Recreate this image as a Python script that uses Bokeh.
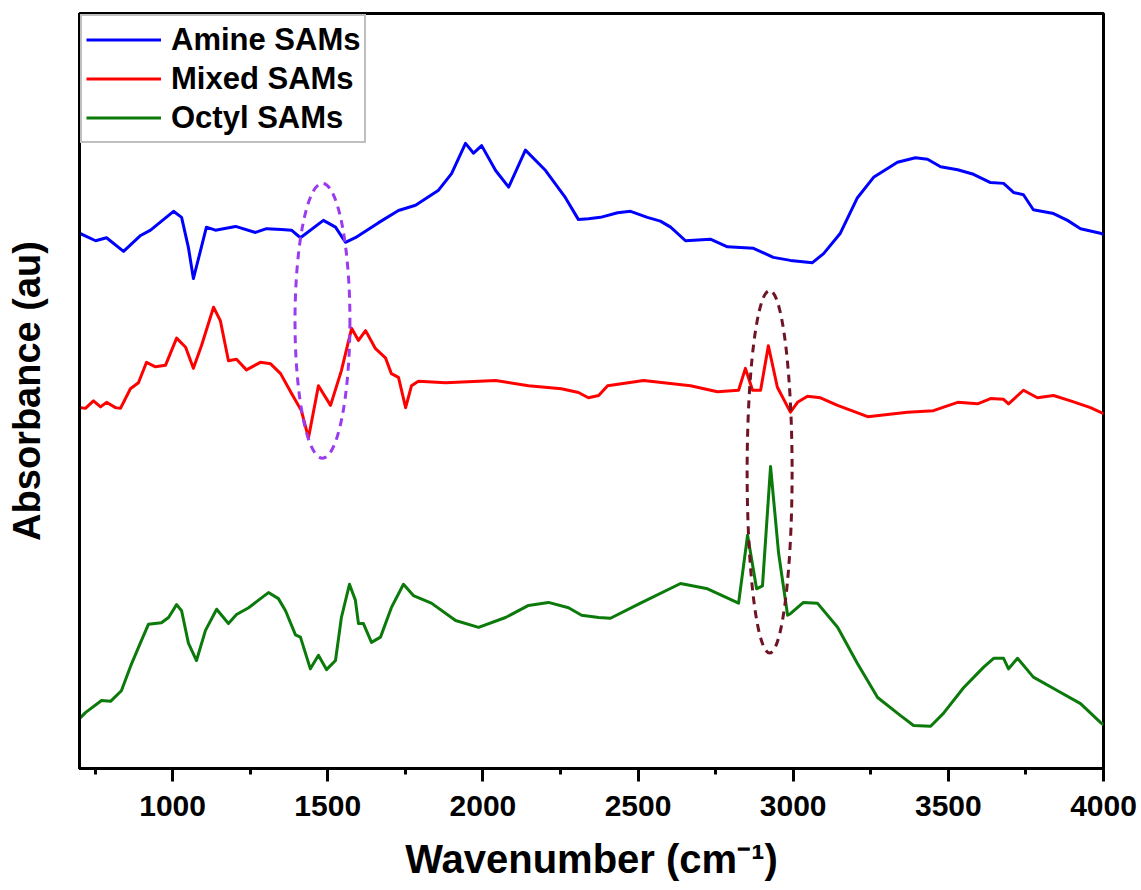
from bokeh.plotting import figure
from bokeh.models import Range1d, FixedTicker, Legend, LegendItem
from bokeh.embed import file_html
from bokeh.resources import INLINE

# ---- data ----
amine_wn = [700, 752, 787, 842, 897, 929, 1003, 1029, 1051, 1067, 1090, 1109, 1138, 1203, 1267, 1303,
            1351, 1383, 1412, 1486, 1525, 1557, 1589, 1664, 1728, 1783, 1857, 1899, 1944, 1970, 1996,
            2041, 2083, 2137, 2202, 2266, 2308, 2340, 2379, 2434, 2476, 2530, 2572, 2605, 2653, 2733,
            2788, 2872, 2936, 2991, 3062, 3098, 3152, 3207, 3259, 3336, 3394, 3433, 3475, 3530, 3581,
            3636, 3678, 3710, 3742, 3774, 3839, 3884, 3926, 3990, 4000]
amine_abs = [0.709, 0.699, 0.703, 0.685, 0.706, 0.713, 0.738, 0.730, 0.690, 0.649, 0.686, 0.717, 0.713,
             0.718, 0.710, 0.715, 0.714, 0.713, 0.703, 0.726, 0.717, 0.697, 0.703, 0.723, 0.739, 0.746,
             0.766, 0.788, 0.828, 0.815, 0.825, 0.792, 0.770, 0.819, 0.792, 0.756, 0.727, 0.728, 0.730,
             0.736, 0.738, 0.730, 0.725, 0.717, 0.699, 0.701, 0.691, 0.689, 0.677, 0.673, 0.670, 0.682,
             0.709, 0.756, 0.783, 0.803, 0.809, 0.807, 0.797, 0.793, 0.787, 0.776, 0.775, 0.763, 0.760,
             0.740, 0.735, 0.726, 0.715, 0.709, 0.707]

mixed_wn = [700, 719, 745, 768, 787, 816, 832, 864, 890, 916, 945, 977, 1013, 1042, 1067, 1093, 1132,
            1154, 1180, 1206, 1238, 1283, 1316, 1348, 1383, 1415, 1438, 1470, 1509, 1544, 1577, 1599,
            1622, 1654, 1686, 1705, 1728, 1751, 1770, 1792, 1880, 2041, 2147, 2253, 2308, 2340, 2373,
            2402, 2518, 2669, 2756, 2824, 2846, 2869, 2895, 2920, 2949, 2991, 3014, 3046, 3088, 3143,
            3240, 3368, 3452, 3530, 3594, 3636, 3678, 3694, 3742, 3787, 3839, 3894, 3958, 4000]
mixed_abs = [0.478, 0.477, 0.487, 0.479, 0.485, 0.478, 0.477, 0.503, 0.511, 0.538, 0.532, 0.534, 0.570,
             0.558, 0.530, 0.560, 0.611, 0.593, 0.540, 0.542, 0.528, 0.538, 0.536, 0.523, 0.497, 0.474,
             0.438, 0.507, 0.481, 0.527, 0.583, 0.567, 0.580, 0.556, 0.544, 0.523, 0.518, 0.478, 0.507,
             0.513, 0.511, 0.514, 0.507, 0.503, 0.498, 0.491, 0.494, 0.507, 0.514, 0.507, 0.499, 0.501,
             0.530, 0.501, 0.501, 0.560, 0.505, 0.472, 0.485, 0.493, 0.491, 0.481, 0.466, 0.472, 0.474,
             0.485, 0.483, 0.490, 0.489, 0.483, 0.501, 0.491, 0.494, 0.487, 0.478, 0.470]

octyl_wn = [700, 719, 771, 800, 835, 868, 897, 922, 964, 987, 1013, 1029, 1051, 1077, 1106, 1142, 1180,
            1206, 1245, 1277, 1309, 1341, 1364, 1396, 1412, 1444, 1470, 1496, 1525, 1544, 1570, 1589,
            1599, 1615, 1641, 1670, 1705, 1744, 1776, 1834, 1912, 1986, 2073, 2147, 2211, 2276, 2318,
            2373, 2411, 2508, 2637, 2724, 2824, 2853, 2882, 2901, 2927, 2953, 2982, 2991, 3033, 3078,
            3143, 3207, 3272, 3346, 3388, 3443, 3484, 3549, 3613, 3646, 3678, 3694, 3723, 3774, 3852,
            3926, 3990, 4000]
octyl_abs = [0.066, 0.074, 0.090, 0.089, 0.103, 0.139, 0.167, 0.191, 0.193, 0.200, 0.217, 0.209, 0.166,
             0.143, 0.183, 0.211, 0.192, 0.204, 0.213, 0.223, 0.233, 0.225, 0.209, 0.177, 0.174, 0.132,
             0.150, 0.131, 0.143, 0.200, 0.244, 0.223, 0.192, 0.192, 0.167, 0.174, 0.213, 0.244, 0.229,
             0.219, 0.196, 0.187, 0.200, 0.216, 0.220, 0.213, 0.203, 0.200, 0.199, 0.219, 0.245, 0.238,
             0.219, 0.309, 0.238, 0.242, 0.400, 0.285, 0.203, 0.205, 0.220, 0.219, 0.187, 0.139, 0.094,
             0.070, 0.057, 0.056, 0.073, 0.107, 0.134, 0.146, 0.146, 0.132, 0.146, 0.121, 0.103, 0.086,
             0.061, 0.058]

series_names = ["Amine SAMs", "Mixed SAMs", "Octyl SAMs"]
series_colors = ["#0000FF", "#FF0000", "#0B7A0B"]

# highlighted regions (dashed ellipses): centre wavenumber, centre absorbance, width, height
ellipse_x = [1483, 2924]
ellipse_y = [0.593, 0.393]
ellipse_w = [177, 145]
ellipse_h = [0.364, 0.481]
ellipse_colors = ["#9A3BF0", "#6E1424"]

x_major = [1000, 1500, 2000, 2500, 3000, 3500, 4000]
x_minor = [750, 1250, 1750, 2250, 2750, 3250, 3750]

FONT = "Liberation Sans"

p = figure(width=1141, height=890, output_backend="svg", toolbar_location=None,
           x_range=Range1d(700, 4000), y_range=Range1d(0, 1),
           min_border_left=79, min_border_right=38, min_border_top=13, min_border_bottom=122)
p.background_fill_color = "white"
p.border_fill_color = "white"
p.outline_line_color = "black"
p.outline_line_width = 3
p.xgrid.visible = False
p.ygrid.visible = False

renderers = []
for wn, ab, c in zip([amine_wn, mixed_wn, octyl_wn], [amine_abs, mixed_abs, octyl_abs], series_colors):
    renderers.append(p.line(wn, ab, line_color=c, line_width=3, line_join="round"))

for ex, ey, ew, eh, ec in zip(ellipse_x, ellipse_y, ellipse_w, ellipse_h, ellipse_colors):
    p.ellipse(x=ex, y=ey, width=ew, height=eh, fill_alpha=0, line_color=ec,
              line_width=3, line_dash="8 6")

# x axis
xa = p.xaxis[0]
xa.ticker = FixedTicker(ticks=x_major, minor_ticks=x_minor)
xa.axis_line_width = 3
xa.major_tick_line_width = 3
xa.minor_tick_line_width = 3
xa.major_tick_in = 0
xa.major_tick_out = 13
xa.minor_tick_in = 0
xa.minor_tick_out = 6
xa.major_label_text_font = FONT
xa.major_label_text_font_style = "bold"
xa.major_label_text_font_size = "30px"
xa.major_label_text_color = "black"
xa.major_label_standoff = 14
xa.axis_label = "Wavenumber (cm\u207b\u00b9)"
xa.axis_label_text_font = FONT
xa.axis_label_text_font_style = "bold"
xa.axis_label_text_font_size = "40px"
xa.axis_label_text_color = "black"
xa.axis_label_standoff = 18

# y axis (no ticks)
ya = p.yaxis[0]
ya.ticker = FixedTicker(ticks=[])
ya.axis_line_width = 3
ya.major_tick_out = 0
ya.major_tick_in = 0
ya.minor_tick_out = 0
ya.minor_tick_in = 0
ya.major_label_text_font_size = "0px"
ya.axis_label = "Absorbance (au)"
ya.axis_label_text_font = FONT
ya.axis_label_text_font_style = "bold"
ya.axis_label_text_font_size = "38px"
ya.axis_label_text_color = "black"
ya.axis_label_standoff = 32

legend = Legend(items=[LegendItem(label=n, renderers=[r]) for n, r in zip(series_names, renderers)],
                location="top_left")
legend.margin = 1
legend.padding = 4
legend.spacing = 0
legend.glyph_width = 75
legend.glyph_height = 39
legend.label_height = 39
legend.label_standoff = 10
legend.label_text_font = FONT
legend.label_text_font_style = "bold"
legend.label_text_font_size = "31px"
legend.label_text_color = "black"
legend.border_line_color = "#808080"
legend.border_line_width = 2
legend.background_fill_color = "white"
legend.background_fill_alpha = 1
p.add_layout(legend)

open("out.html", "w").write(file_html(p, INLINE))
